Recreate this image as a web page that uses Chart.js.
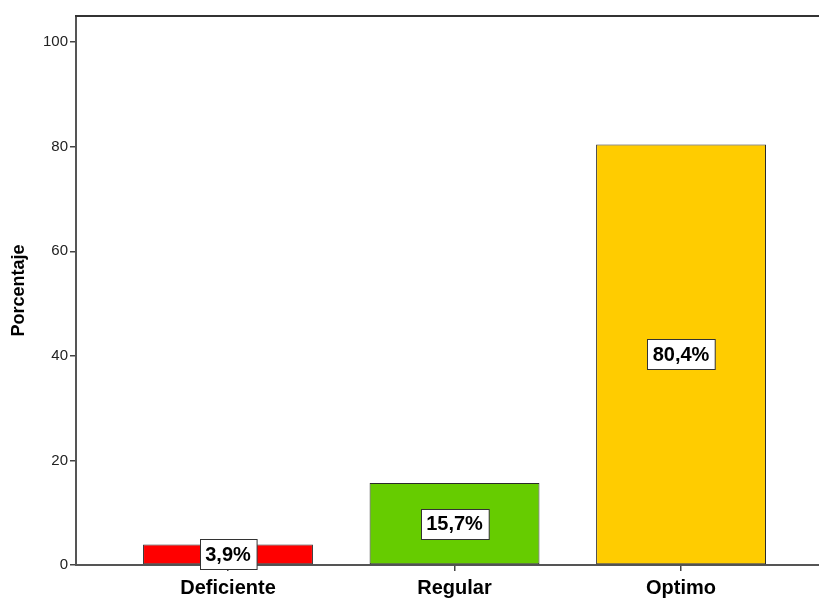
<!DOCTYPE html>
<html><head><meta charset="utf-8">
<script src="https://cdn.jsdelivr.net/npm/chart.js@4/dist/chart.umd.min.js"></script>
<style>html,body{margin:0;padding:0;background:#fff}#wrap{width:819px;height:598px;position:relative}</style>
</head><body><div id="wrap"><canvas id="c"></canvas></div>
<script>
const categories = ['Deficiente', 'Regular', 'Optimo'];
const positions = [1, 2, 3];
const percentages = [3.9, 15.7, 80.4];
const valueLabels = ['3,9%', '15,7%', '80,4%'];
const barColors = ['#FF0000', '#66CC00', '#FFCC00'];
const yTicks = [0, 20, 40, 60, 80, 100];

const FONT = '"Liberation Sans", Arial, sans-serif';

const frameTop = {
  id: 'frameTop',
  afterDraw(chart) {
    const {ctx, chartArea} = chart;
    ctx.save();
    ctx.strokeStyle = '#333';
    ctx.lineWidth = 2;
    ctx.beginPath();
    ctx.moveTo(chartArea.left - 1, chartArea.top);
    ctx.lineTo(chartArea.right, chartArea.top);
    ctx.stroke();
    ctx.restore();
  }
};

const boxLabels = {
  id: 'boxLabels',
  afterDatasetsDraw(chart) {
    const {ctx} = chart;
    const meta = chart.getDatasetMeta(0);
    ctx.save();
    ctx.font = 'bold 20px ' + FONT;
    ctx.textAlign = 'center';
    ctx.textBaseline = 'middle';
    meta.data.forEach((bar, i) => {
      const t = valueLabels[i];
      const cy = (bar.y + bar.base) / 2;
      const w = ctx.measureText(t).width + 11;
      const h = 30;
      const x0 = Math.round(bar.x - w / 2) + 0.5;
      const y0 = Math.round(cy - h / 2) + 0.5;
      ctx.fillStyle = '#fff';
      ctx.fillRect(x0, y0, w, h);
      ctx.strokeStyle = '#333';
      ctx.lineWidth = 1;
      ctx.strokeRect(x0, y0, w, h);
      ctx.fillStyle = '#000';
      ctx.fillText(t, bar.x, cy + 1);
    });
    ctx.restore();
  }
};

new Chart(document.getElementById('c'), {
  type: 'bar',
  data: {
    datasets: [{
      data: positions.map((p, i) => ({x: p, y: percentages[i]})),
      backgroundColor: barColors,
      borderColor: '#2a2a2a',
      borderWidth: 1,
      borderSkipped: false,
      barPercentage: 0.75,
      categoryPercentage: 1
    }]
  },
  options: {
    responsive: true,
    maintainAspectRatio: false,
    animation: false,
    layout: {padding: {top: 16, right: 0, left: 0, bottom: 0}},
    plugins: {legend: {display: false}, tooltip: {enabled: false}},
    scales: {
      x: {
        type: 'linear',
        offset: false,
        min: 0.329,
        max: 3.609,
        afterBuildTicks: s => { s.ticks = positions.map(v => ({value: v})); },
        afterFit: s => { s.height = 33; },
        ticks: {
          callback: v => categories[positions.indexOf(v)],
          font: {family: FONT, size: 20, weight: 'bold'},
          color: '#000',
          padding: 5,
          maxRotation: 0,
          autoSkip: false
        },
        grid: {display: true, offset: false, drawOnChartArea: false, drawTicks: true, tickLength: 6, color: '#444', lineWidth: 1.5},
        border: {display: true, color: '#555', width: 2}
      },
      y: {
        min: 0,
        max: 105,
        afterBuildTicks: s => { s.ticks = yTicks.map(v => ({value: v})); },
        afterFit: s => { s.width = 76; },
        ticks: {font: {family: FONT, size: 15}, color: '#222', padding: 2},
        grid: {display: true, drawOnChartArea: false, drawTicks: true, tickLength: 6, color: '#444', lineWidth: 1.5},
        border: {display: true, color: '#555', width: 2},
        title: {display: true, text: 'Porcentaje', font: {family: FONT, size: 18, weight: 'bold'}, color: '#000', padding: {top: 8, bottom: 4}}
      }
    }
  },
  plugins: [frameTop, boxLabels]
});
</script>
</body></html>
